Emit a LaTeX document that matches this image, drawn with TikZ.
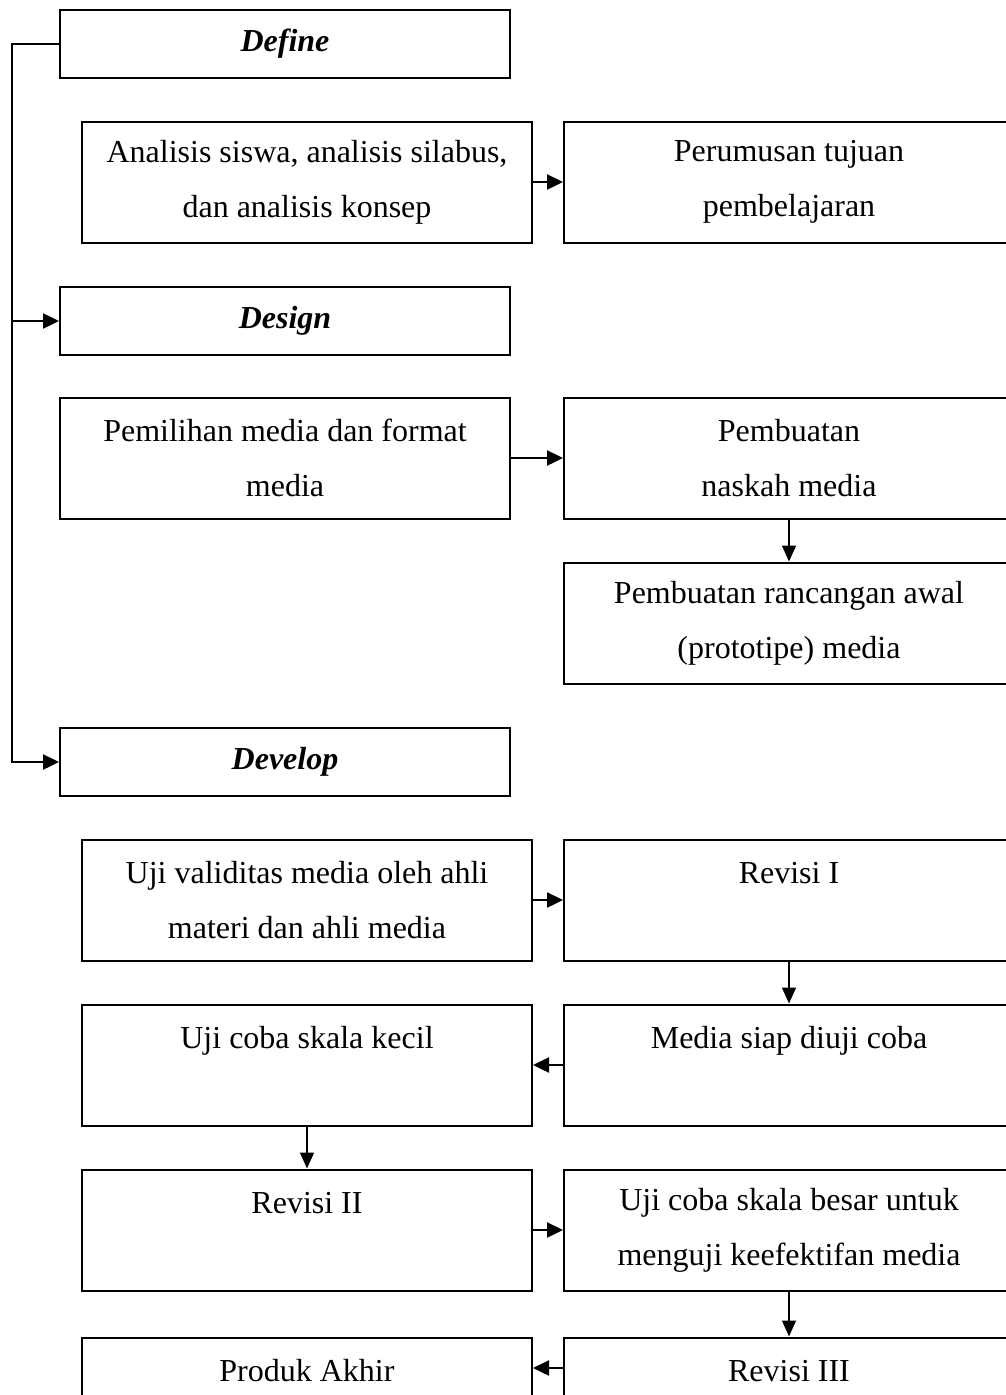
\documentclass[tikz,border=0pt]{standalone}
\usepackage{fontspec}
\setmainfont{Liberation Serif}
\usetikzlibrary{arrows.meta}

\begin{document}
\begin{tikzpicture}[x=1pt,y=-1pt,
        phase/.style={draw, line width=2pt, minimum width=450pt, minimum height=68pt, inner sep=0pt, font=\bfseries\itshape},
        stepbox/.style={draw, line width=2pt, minimum width=450pt, minimum height=121pt, inner sep=0pt, align=center},
        arr/.style={-{Triangle[length=16pt,width=15pt]}, line width=2.4pt},
        darr/.style={-{Triangle[length=16pt,width=14pt]}, line width=1.6pt}]
        \useasboundingbox (0,0) rectangle (1006,1395);
        \fontsize{32}{55}\selectfont

        \node[phase] at (285, 44)(define){Define};
        \node[stepbox] at (307, 182)(anl){Analisis siswa, analisis silabus,\\dan analisis konsep};
        \node[stepbox] at (789, 182)(tuj){Perumusan tujuan\\pembelajaran};
        \node[phase] at (285, 321)(design){Design};
        \node[stepbox] at (285, 458)(pmf){Pemilihan media dan format\\media};
        \node[stepbox] at (789, 458)(nask){Pembuatan\\naskah media};
        \node[stepbox] at (789, 623)(proto){Pembuatan rancangan awal\\(prototipe) media};
        \node[phase] at (285, 762)(develop){Develop};
        \node[stepbox] at (307, 900)(uji){Uji validitas media oleh ahli\\materi dan ahli media};
        \node[stepbox] at (789, 900)(rev1){Revisi I\\\phantom{A}};
        \node[stepbox] at (307, 1065)(kecil){Uji coba skala kecil\\\phantom{A}};
        \node[stepbox] at (789, 1065)(siap){Media siap diuji coba\\\phantom{A}};
        \node[stepbox] at (307, 1230)(rev2){Revisi II\\\phantom{A}};
        \node[stepbox] at (789, 1230)(besar){Uji coba skala besar untuk\\menguji keefektifan media};
        \node[stepbox] at (307, 1398)(akhir){Produk Akhir\\\phantom{A}};
        \node[stepbox] at (789, 1398)(rev3){Revisi III\\\phantom{A}};
        \coordinate (spine) at (12, 0);

        % left spine
        \draw[arr] (define.west) -- (define.west -| spine) |- (develop.west);
        \draw[arr] (design.west -| spine) -- (design.west);

        \path[arr]
        (anl)edge(tuj)
        (pmf)edge(nask)
        (uji)edge(rev1)
        (siap)edge(kecil)
        (rev2)edge(besar)
        ([yshift=30pt]rev3.west)edge([yshift=30pt]akhir.east)
        ;
        \path[darr]
        (nask)edge(proto)
        (rev1)edge(siap)
        (kecil)edge(rev2)
        (besar)edge(rev3)
        ;
    \end{tikzpicture}
\end{document}
